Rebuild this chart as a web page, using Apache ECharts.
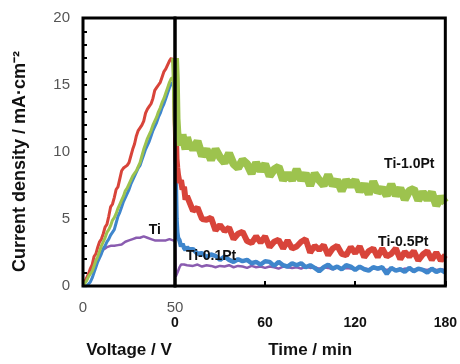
<!DOCTYPE html>
<html><head><meta charset="utf-8">
<script src="https://cdn.jsdelivr.net/npm/echarts@6/dist/echarts.min.js"></script>
<style>html,body{margin:0;padding:0;background:#fff}#c{width:460px;height:364px}</style>
</head><body><div id="c"></div>
<script>
// ---- Data ----
const voltage = [0,1,2,3,4,5,6,7,8,9,10,11,12,13,14,15,16,17,18,19,20,21,22,23,24,25,26,27,28,29,30,31,32,33,34,35,36,37,38,39,40,41,42,43,44,45,46,47,48,49,50];
const vRed = [0,0.3,0.6,0.9,1.3,1.6,2.2,2.4,2.9,3.3,3.5,3.9,4.4,4.6,5.2,5.9,6.1,6.6,7.2,7.4,8.0,8.6,8.8,8.9,9.0,9.2,9.7,10.2,10.6,11.2,11.6,11.8,12.0,12.3,12.9,13.2,13.4,13.6,14.0,14.6,14.8,15.0,15.2,15.6,16.0,16.2,16.5,16.8,17.0,16.7,16.9];
const vGreen = [0,0.2,0.4,0.7,0.9,1.1,1.5,1.9,2.2,2.6,3.0,3.3,3.6,4.0,4.2,4.5,4.9,5.1,5.4,5.8,6.1,6.4,6.7,7.1,7.3,7.6,7.9,8.2,8.4,8.6,8.9,9.2,9.7,10.2,10.6,11.0,11.3,11.6,12.0,12.3,12.6,13.0,13.3,13.7,14.0,14.4,14.8,15.2,15.5,15.4,15.6];
const vBlue = [0,0,0,0.1,0.3,0.6,1.0,1.4,1.8,2.1,2.4,2.8,3.0,3.3,3.5,3.8,4.0,4.2,4.7,5.2,5.5,5.9,6.3,6.6,6.9,7.2,7.6,7.9,8.2,8.5,8.8,9.0,9.4,9.8,10.2,10.5,10.8,11.2,11.6,11.9,12.2,12.6,12.9,13.3,13.6,14.0,14.4,14.8,15.1,15.2,15.3];
const vPurple = [0,0.3,0.6,0.9,1.2,1.4,1.7,1.9,2.1,2.3,2.5,2.7,2.8,2.9,3.0,3.0,3.0,3.0,3.0,3.05,3.1,3.1,3.2,3.3,3.3,3.4,3.5,3.5,3.6,3.6,3.7,3.6,3.6,3.7,3.65,3.6,3.6,3.5,3.5,3.4,3.4,3.4,3.4,3.4,3.5,3.4,3.4,3.5,3.4,3.4,3.4];

const time = [0,0.5,1,1.5,2,3,4,5,6,7,8,9,12,15,18,21,24,27,30,33,36,39,42,45,48,51,54,57,60,63,66,69,72,75,78,81,84,87,90,93,96,99,102,105,108,111,114,117,120,123,126,129,132,135,138,141,144,147,150,153,156,159,162,165,168,171,174,177,180];
const tGreen = [17.0,15.5,12.5,11.5,11.0,11.2,10.5,11.3,10.7,10.2,11.1,10.7,10.2,10.8,9.7,10.2,9.4,10.2,9.6,9.2,9.9,9.1,8.8,9.4,9.1,8.4,9.2,8.6,9.1,8.2,8.7,8.9,7.9,8.4,7.9,8.7,7.9,8.4,7.5,8.4,7.9,7.5,8.3,7.5,7.9,7.1,7.9,7.45,7.9,7.05,7.6,6.85,7.8,7.0,7.3,6.75,7.6,6.75,7.3,6.45,7.1,7.25,6.4,7.0,6.45,7.0,6.0,6.65,6.2];
const tRed = [17.0,12.0,9.5,8.8,8.3,7.7,7.9,7.2,7.4,6.45,6.7,6.7,5.6,5.85,5.0,4.95,5.1,4.15,4.55,4.1,4.35,3.5,3.9,4.05,3.35,3.2,3.7,3.25,3.7,2.9,3.3,3.45,2.8,3.4,2.8,2.95,3.3,3.5,2.5,3.0,2.7,3.05,2.3,2.8,3.0,2.4,2.3,2.9,2.45,2.95,2.15,2.6,2.8,2.15,2.8,2.2,2.4,2.8,2.0,2.55,2.2,2.6,1.9,2.35,2.6,1.95,2.5,1.9,2.3];
const tBlue = [15.3,8.0,5.0,4.0,3.6,3.4,2.95,3.15,2.85,2.7,2.9,2.75,2.75,2.4,2.45,2.15,2.35,2.25,1.95,2.2,1.95,1.8,2.0,1.85,1.95,1.7,1.8,1.6,1.85,1.8,1.5,1.8,1.55,1.45,1.7,1.55,1.7,1.4,1.55,1.35,1.1,1.4,1.6,1.3,1.45,1.25,1.55,1.45,1.2,1.45,1.25,1.15,1.4,1.3,1.4,0.9,1.35,1.15,1.25,1.05,1.35,1.1,1.3,1.2,1.0,1.3,1.05,1.2,1.0];
const tPurple = [3.4,0.7,0.6,0.8,1.1,1.4,1.6,1.7,1.6,1.65,1.55,1.6,1.5,1.6,1.45,1.55,1.5,1.4,1.5,1.45,1.55,1.4,1.5,1.45,1.35,1.5,1.4,1.45,1.35,1.45,1.4,1.3,1.45,1.4,1.35,1.4,1.3,1.45,1.35,1.4,1.3,1.4,1.35,1.25,1.4,1.3,1.35,1.3,1.25,1.35,1.3,1.25,1.35,1.25,1.3,1.2,1.3,1.25,1.2,1.3,1.25,1.2,1.3,1.25,1.2,1.3,1.2,1.25,1.2];

const yTicks = [0, 20, 5];       // min, max, interval
const voltTicks = [0, 50, 50];
const timeTicks = [0, 180, 60];
const yTitle = 'Current density / mA·cm⁻²';
const seriesLabels = [
  {text:'Ti', grid:0, at:[39, 4.2]},
  {text:'Ti-0.1Pt', grid:1, at:[24, 2.25]},
  {text:'Ti-0.5Pt', grid:1, at:[152, 3.3]},
  {text:'Ti-1.0Pt', grid:1, at:[156, 9.1]}
];

// ---- Styles ----
const FONT = 'Liberation Sans, Arial, sans-serif';
const C = {red:'#d8443a', green:'#9dc34e', blue:'#3f86cc', purple:'#8a5cb0'};
const pairs = (xs, ys) => xs.map((x, i) => [x, ys[i]]);

const chart = echarts.init(document.getElementById('c'), null, {renderer:'canvas'});
function line(name, xi, data, color, w) {
  return {type:'line', name, xAxisIndex:xi, yAxisIndex:xi, data, showSymbol:false, symbol:'none',
    lineStyle:{color, width:w, join:'bevel'}, itemStyle:{color}, animation:false, silent:true};
}
chart.setOption({
  animation:false,
  grid:[
    {left:83, right:285, top:18, bottom:72, show:true, borderColor:'#000', borderWidth:3, z:10},
    {left:175, right:11, top:18, bottom:72, show:true, borderColor:'#000', borderWidth:3, z:10}
  ],
  xAxis:[
    {type:'value', gridIndex:0, min:voltTicks[0], max:voltTicks[1], interval:voltTicks[2],
     axisLine:{show:false}, axisTick:{show:false}, splitLine:{show:false},
     axisLabel:{color:'#555', fontSize:15, fontFamily:FONT, margin:14},
     name:'Voltage / V', nameLocation:'middle', nameGap:56,
     nameTextStyle:{fontSize:17, fontWeight:'bold', color:'#111', fontFamily:FONT}},
    {type:'value', gridIndex:1, min:timeTicks[0], max:timeTicks[1], interval:timeTicks[2],
     axisLine:{show:false}, axisTick:{show:true, inside:true, length:5, lineStyle:{color:'#000', width:2}},
     splitLine:{show:false},
     axisLabel:{color:'#111', fontSize:14, fontWeight:'bold', fontFamily:FONT, margin:30},
     name:'Time / min', nameLocation:'middle', nameGap:56,
     nameTextStyle:{fontSize:17, fontWeight:'bold', color:'#111', fontFamily:FONT}}
  ],
  yAxis:[
    {type:'value', gridIndex:0, min:yTicks[0], max:yTicks[1], interval:yTicks[2],
     axisLine:{show:false}, axisTick:{show:true, inside:true, length:4, lineStyle:{color:'#000', width:2}},
     minorTick:{show:true, splitNumber:5, length:4, lineStyle:{color:'#000', width:2}},
     splitLine:{show:false},
     axisLabel:{color:'#555', fontSize:15, fontFamily:FONT, margin:13}},
    {type:'value', gridIndex:1, min:yTicks[0], max:yTicks[1], interval:yTicks[2], show:false}
  ],
  series:[
    line('Ti', 0, pairs(voltage, vPurple), C.purple, 2.5),
    line('Ti-0.1Pt', 0, pairs(voltage, vBlue), C.blue, 3),
    line('Ti-0.5Pt', 0, pairs(voltage, vRed), C.red, 3),
    line('Ti-1.0Pt', 0, pairs(voltage, vGreen), C.green, 3),
    line('Ti', 1, pairs(time, tPurple), C.purple, 2.5),
    line('Ti-0.1Pt', 1, pairs(time, tBlue), C.blue, 4.5),
    line('Ti-0.5Pt', 1, pairs(time, tRed), C.red, 6),
    line('Ti-1.0Pt', 1, pairs(time, tGreen), C.green, 8)
  ]
});
const g = seriesLabels.map(l => {
  const p = chart.convertToPixel({gridIndex:l.grid}, l.at);
  return {type:'text', x:p[0], y:p[1], z:100,
    style:{text:l.text, fill:'#111', font:'bold 14px ' + FONT, textAlign:'center', textVerticalAlign:'middle'}};
});
const y0 = chart.convertToPixel({gridIndex:0}, [0, 0]);
g.push({type:'text', x:20, y:y0[1] - 14, rotation:Math.PI / 2, z:100,
  style:{text:yTitle, fill:'#111', font:'bold 18px ' + FONT, textAlign:'left', textVerticalAlign:'middle'}});
chart.setOption({graphic:g});
</script></body></html>
